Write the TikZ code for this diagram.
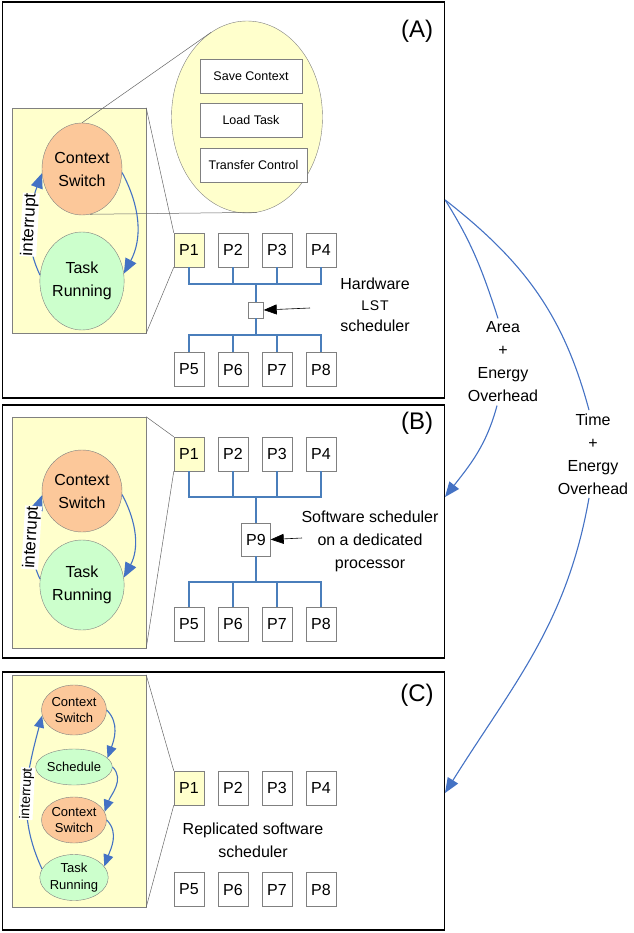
\documentclass[tikz,border=0pt]{standalone}
\usepackage{fontspec}
\setmainfont{Liberation Sans}
\newfontfamily\lstfont[LetterSpace=6]{Liberation Sans}
\usetikzlibrary{shapes.geometric,arrows.meta,positioning}

\definecolor{padyellow}{HTML}{FFFFCC}
\definecolor{csorange}{HTML}{FCC89A}
\definecolor{trgreen}{HTML}{CCFFCC}
\definecolor{flowblue}{HTML}{4472C4}
\definecolor{busblue}{HTML}{4A7EBB}
\definecolor{edgegray}{HTML}{808080}

\tikzset{
  panel/.style={draw=black, line width=1.4pt, minimum width=442pt, inner sep=0pt},
  pad/.style={draw=edgegray, fill=padyellow, minimum width=134pt, inner sep=0pt},
  proc/.style={draw=edgegray, fill=white, minimum width=30pt, minimum height=34pt, inner sep=0pt, font=\fontsize{16}{19}\selectfont},
  ctxbox/.style={draw=edgegray, fill=white, minimum height=34pt, inner sep=0pt, font=\fontsize{12.5}{15}\selectfont},
  cswitch/.style={ellipse, draw=edgegray, fill=csorange, inner sep=0pt, align=center},
  trun/.style={ellipse, draw=edgegray, fill=trgreen, inner sep=0pt, align=center},
  bigtxt/.style={font=\fontsize{16}{23}\selectfont, align=center},
  smalltxt/.style={font=\fontsize{13}{16.5}\selectfont, align=center},
  tag/.style={font=\fontsize{24}{28}\selectfont},
  bus/.style={draw=busblue, line width=1.6pt},
  trunk/.style={draw=busblue, line width=2pt},
  flowline/.style={draw=flowblue, line width=1.1pt},
  flow/.style={flowline, -{Triangle[length=15pt,width=12pt]}},
  flowc/.style={flowline, -{Triangle[length=12pt,width=10pt]}},
  pointer/.style={draw=black, line width=0.6pt, -{Triangle[length=13pt,width=10pt]}},
  callout/.style={draw=black!60, line width=0.5pt},
  intr/.style={fill=white, inner sep=0.5pt, sloped},
}

\begin{document}
\begin{tikzpicture}[x=1pt, y=1pt, node distance=44pt]
    \useasboundingbox (0,0) rectangle (633,-933);
    % panels
    \node (pa) [panel, minimum height=396pt] at (223.5,-200) {};
    \node (pb) [panel, minimum height=253pt] at (223.5,-531.5) {};
    \node (pc) [panel, minimum height=258pt] at (223.5,-801) {};
    \node (la) [tag] at (417,-31) {(A)};
    \node (lb) [tag] at (417,-423) {(B)};
    \node (lc) [tag] at (417,-695) {(C)};

    % (A) hardware scheduler
    \node (zpa) [pad, minimum height=225pt] at (79,-220.5) {};
    \node (csa) [cswitch, bigtxt, minimum width=80pt, minimum height=92pt] at (82,-169) {Context\\Switch};
    \node (tra) [trun, bigtxt, minimum width=80pt, minimum height=98pt] at (82,-281) {Task\\Running};
    \node (zoom) [ellipse, draw=edgegray, fill=padyellow, minimum width=151pt, minimum height=192pt] at (247,-117) {};
    \node (sc) [ctxbox, minimum width=102pt] at (251,-76) {Save Context};
    \node (lt) [ctxbox, minimum width=102pt] at (251,-120) {Load Task};
    \node (tc) [ctxbox, minimum width=107pt] at (253.5,-165) {Transfer Control};
    \draw[callout] (csa.north) -- (zoom.113);
    \draw[callout] (csa.-80) -- (zoom.-84);
    \draw[flow] (csa.-5) to[out=-62, in=62] (tra.10);
    \draw[flow] (tra.172) to[out=115, in=-110] node[intr, font=\fontsize{17}{19}\selectfont] {interrupt} (csa.186);

    \node (a1) [proc, fill=padyellow] at (189,-250) {P1};
    \node (a2) [proc, right of=a1] {P2};
    \node (a3) [proc, right of=a2] {P3};
    \node (a4) [proc, right of=a3] {P4};
    \node (a5) [proc] at (189,-369.5) {P5};
    \node (a6) [proc, right of=a5] {P6};
    \node (a7) [proc, right of=a6] {P7};
    \node (a8) [proc, right of=a7] {P8};
    \node (sa) [draw=edgegray, fill=white, minimum width=15pt, minimum height=16pt, inner sep=0pt] at (256,-310) {};
    \coordinate (ba1) at (256,-284);
    \coordinate (ba2) at (256,-335);
    \draw[callout] (zpa.north east) -- (a1.north west);
    \draw[callout] (zpa.south east) -- (a1.south west);
    \draw[bus] (a1.south) |- (ba1) -| (a4.south);
    \draw[bus] (a2.south) -- (a2.south |- ba1) (a3.south) -- (a3.south |- ba1);
    \draw[bus] (a5.north) |- (ba2) -| (a8.north);
    \draw[bus] (a6.north) -- (a6.north |- ba2) (a7.north) -- (a7.north |- ba2);
    \draw[trunk] (ba1) -- (sa.north);
    \draw[trunk] (sa.south) -- (ba2);
    \node (hw) [bigtxt] at (375,-305) {Hardware\\[-2pt]{\lstfont\fontsize{14}{16}\selectfont LST}\\[-2pt]scheduler};
    \coordinate (hwtail) at (310,-308);
    \draw[pointer] (hwtail) -- (sa.east);

    % (B) scheduler on a dedicated processor
    \node (zpb) [pad, minimum height=231pt] at (79,-532.5) {};
    \node (csb) [cswitch, bigtxt, minimum width=80pt, minimum height=82pt] at (82,-491) {Context\\Switch};
    \node (trb) [trun, bigtxt, minimum width=80pt, minimum height=90pt] at (82,-585) {Task\\Running};
    \draw[flow] (csb.-5) to[out=-62, in=62] (trb.10);
    \draw[flow] (trb.172) to[out=115, in=-110] node[intr, font=\fontsize{17}{19}\selectfont] {interrupt} (csb.186);

    \node (b1) [proc, fill=padyellow] at (189,-454) {P1};
    \node (b2) [proc, right of=b1] {P2};
    \node (b3) [proc, right of=b2] {P3};
    \node (b4) [proc, right of=b3] {P4};
    \node (b5) [proc] at (189,-624) {P5};
    \node (b6) [proc, right of=b5] {P6};
    \node (b7) [proc, right of=b6] {P7};
    \node (b8) [proc, right of=b7] {P8};
    \node (p9) [proc, minimum width=29pt, minimum height=33pt] at (256,-539.5) {P9};
    \coordinate (bb1) at (256,-497);
    \coordinate (bb2) at (256,-582);
    \draw[callout] (zpb.north east) -- (b1.north west);
    \draw[callout] (zpb.south east) -- (b1.south west);
    \draw[bus] (b1.south) |- (bb1) -| (b4.south);
    \draw[bus] (b2.south) -- (b2.south |- bb1) (b3.south) -- (b3.south |- bb1);
    \draw[bus] (b5.north) |- (bb2) -| (b8.north);
    \draw[bus] (b6.north) -- (b6.north |- bb2) (b7.north) -- (b7.north |- bb2);
    \draw[trunk] (bb1) -- (p9.north);
    \draw[trunk] (p9.south) -- (bb2);
    \node (sw) [bigtxt] at (370,-541) {Software scheduler\\on a dedicated\\processor};
    \coordinate (swtail) at (302,-538);
    \draw[pointer] (swtail) -- (p9.east);

    % (C) replicated software scheduler
    \node (zpc) [pad, minimum height=232pt] at (79,-791) {};
    \node (cs1) [cswitch, smalltxt, minimum width=65pt, minimum height=50pt] at (74,-710) {Context\\Switch};
    \node (sch) [trun, smalltxt, minimum width=76pt, minimum height=36pt] at (74,-767) {Schedule};
    \node (cs2) [cswitch, smalltxt, minimum width=65pt, minimum height=46pt] at (74,-820) {Context\\Switch};
    \node (trc) [trun, smalltxt, minimum width=65pt, minimum height=46pt] at (74,-877.5) {Task\\Running};
    \draw[flowc] (cs1.east) to[out=-45, in=70] (sch.15);
    \draw[flowc] (sch.east) to[out=-45, in=70] (cs2.15);
    \draw[flowc] (cs2.east) to[out=-45, in=70] (trc.20);
    \draw[flowc] (trc.165) to[out=115, in=-105] node[intr, font=\fontsize{14}{16}\selectfont] {interrupt} (cs1.190);

    \node (c1) [proc, fill=padyellow] at (189,-788) {P1};
    \node (c2) [proc, right of=c1] {P2};
    \node (c3) [proc, right of=c2] {P3};
    \node (c4) [proc, right of=c3] {P4};
    \node (c5) [proc] at (189,-889.5) {P5};
    \node (c6) [proc, right of=c5] {P6};
    \node (c7) [proc, right of=c6] {P7};
    \node (c8) [proc, right of=c7] {P8};
    \draw[callout] (zpc.north east) -- (c1.north west);
    \draw[callout] (zpc.south east) -- (c1.south west);
    \node (rep) [bigtxt] at (253,-840) {Replicated software\\scheduler};

    % overheads
    \node (al) [bigtxt] at (503,-362) {Area\\+\\Energy\\Overhead};
    \node (tl) [bigtxt] at (593,-454) {Time\\+\\Energy\\Overhead};
    \coordinate (tipb) at (445,-497);
    \coordinate (tipc) at (445,-793);
    \draw[flowline] (pa.east) to[out=-58, in=108] ([xshift=-5pt]al.north);
    \draw[flow] ([xshift=-6pt]al.south) to[out=-105, in=52] (tipb);
    \draw[flowline] (pa.east) to[out=-38, in=105] ([xshift=-4pt]tl.north);
    \draw[flow] ([xshift=-4pt]tl.south) to[out=-100, in=58] (tipc);
\end{tikzpicture}
\end{document}
